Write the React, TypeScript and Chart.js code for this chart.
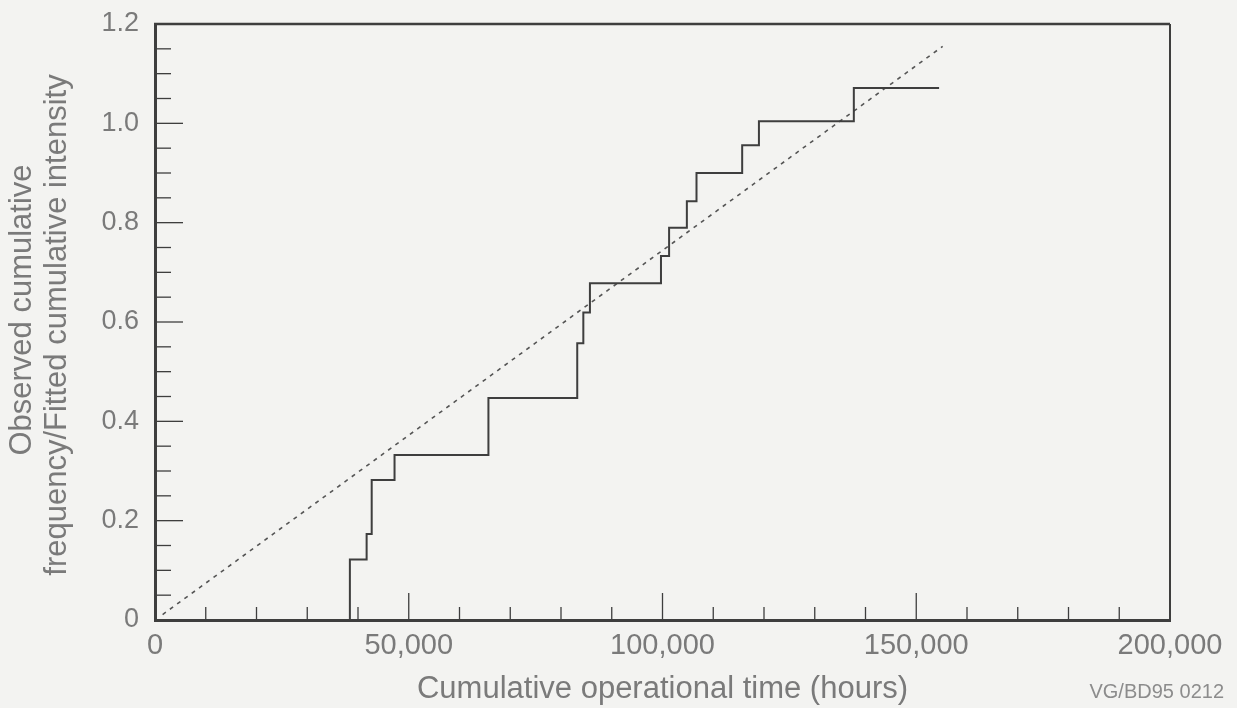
import React, { useEffect, useRef } from 'react';
import { Chart, registerables } from 'chart.js';

Chart.register(...registerables);

// Observed cumulative frequency: jump times (hours) and the level reached after each jump
const jumpTimes = [38400, 41700, 42700, 47200, 65700, 83200, 84400, 85700, 99700, 101300, 104800, 106700, 115700, 119000, 137700];
const jumpLevels = [0.122, 0.173, 0.282, 0.332, 0.447, 0.557, 0.619, 0.678, 0.733, 0.79, 0.843, 0.9, 0.956, 1.004, 1.071];
const observedEnd = 154500;

// Fitted cumulative intensity (dashed line)
const fitTimes = [1500, 155200];
const fitValues = [0.011, 1.155];

// Axis ticks
const xTicks = [0, 50000, 100000, 150000, 200000];
const xTickLabels = ['0', '50,000', '100,000', '150,000', '200,000'];
const xMinorTicks = [10000, 20000, 30000, 40000, 60000, 70000, 80000, 90000, 110000, 120000, 130000, 140000, 160000, 170000, 180000, 190000];
const yTicks = [0, 0.2, 0.4, 0.6, 0.8, 1.0, 1.2];
const yTickLabels = ['0', '0.2', '0.4', '0.6', '0.8', '1.0', '1.2'];
const yMinorTicks = [0.05, 0.1, 0.15, 0.25, 0.3, 0.35, 0.45, 0.5, 0.55, 0.65, 0.7, 0.75, 0.85, 0.9, 0.95, 1.05, 1.1, 1.15];

const xTitle = 'Cumulative operational time (hours)';
const yTitleLines = ['Observed cumulative', 'frequency/Fitted cumulative intensity'];
const figureId = 'VG/BD95 0212';

const FONT = '"Liberation Sans", Arial, Helvetica, sans-serif';
const TEXT = '#7a7a7a';
const INK = '#3e3e3e';
const BG = '#f3f3f1';

const framePlugin = {
  id: 'frame',
  beforeDraw(chart: any) {
    const { ctx, width, height } = chart;
    ctx.save();
    ctx.fillStyle = BG;
    ctx.fillRect(0, 0, width, height);
    ctx.restore();
  },
  afterDraw(chart: any) {
    const { ctx, chartArea } = chart;
    const xs = chart.scales.x;
    const ys = chart.scales.y;
    const { left, right, top, bottom } = chartArea;
    ctx.save();
    ctx.strokeStyle = INK;
    // top and right borders
    ctx.lineWidth = 2.5;
    ctx.beginPath();
    ctx.moveTo(left - 1, top);
    ctx.lineTo(right, top);
    ctx.stroke();
    ctx.lineWidth = 2;
    ctx.beginPath();
    ctx.moveTo(right, top);
    ctx.lineTo(right, bottom + 1);
    ctx.stroke();
    // inward ticks
    ctx.lineWidth = 1.3;
    const drawX = (v: number, len: number) => {
      const px = xs.getPixelForValue(v);
      ctx.beginPath();
      ctx.moveTo(px, bottom);
      ctx.lineTo(px, bottom - len);
      ctx.stroke();
    };
    const drawY = (v: number, len: number) => {
      const py = ys.getPixelForValue(v);
      ctx.beginPath();
      ctx.moveTo(left, py);
      ctx.lineTo(left + len, py);
      ctx.stroke();
    };
    xTicks.slice(1, -1).forEach((v) => drawX(v, 27));
    xMinorTicks.forEach((v) => drawX(v, 13));
    yTicks.slice(1, -1).forEach((v) => drawY(v, 28));
    yMinorTicks.forEach((v) => drawY(v, 16));

    // y-axis title (two rotated lines)
    ctx.fillStyle = TEXT;
    ctx.font = '31px ' + FONT;
    ctx.textAlign = 'center';
    ctx.textBaseline = 'middle';
    const titleSpots = [
      [22, 310],
      [57, 325],
    ];
    yTitleLines.forEach((line, i) => {
      ctx.save();
      ctx.translate(titleSpots[i][0], titleSpots[i][1]);
      ctx.rotate(-Math.PI / 2);
      ctx.fillText(line, 0, 0);
      ctx.restore();
    });

    // figure id
    ctx.fillStyle = '#8c8c8c';
    ctx.font = '20px ' + FONT;
    ctx.textAlign = 'right';
    ctx.textBaseline = 'middle';
    ctx.fillText(figureId, 1224, 692);
    ctx.restore();
  },
};

export default function App() {
  const ref = useRef<HTMLCanvasElement | null>(null);

  useEffect(() => {
    if (!ref.current) return;
    const stepData = [{ x: jumpTimes[0], y: 0 }]
      .concat(jumpTimes.map((t, i) => ({ x: t, y: jumpLevels[i] })))
      .concat([{ x: observedEnd, y: jumpLevels[jumpLevels.length - 1] }]);
    const fitData = fitTimes.map((t, i) => ({ x: t, y: fitValues[i] }));

    const chart = new Chart(ref.current, {
      type: 'line',
      data: {
        datasets: [
          {
            label: 'Observed cumulative frequency',
            data: stepData,
            stepped: 'before',
            borderColor: INK,
            borderWidth: 2,
            pointRadius: 0,
            fill: false,
          },
          {
            label: 'Fitted cumulative intensity',
            data: fitData,
            borderColor: '#555555',
            borderWidth: 1.6,
            borderDash: [4, 5],
            pointRadius: 0,
            fill: false,
          },
        ],
      },
      options: {
        animation: false,
        responsive: true,
        maintainAspectRatio: false,
        layout: { padding: { top: 24, right: 67, left: 0, bottom: 0 } },
        plugins: { legend: { display: false }, tooltip: { enabled: false } },
        scales: {
          x: {
            type: 'linear',
            min: 0,
            max: 200000,
            afterBuildTicks: (s: any) => {
              s.ticks = xTicks.map((v) => ({ value: v }));
            },
            afterFit: (s: any) => {
              s.height = 88;
              s.paddingLeft = 0;
              s.paddingRight = 0;
            },
            ticks: {
              callback: (_v: any, i: number) => xTickLabels[i],
              font: { family: FONT, size: 29 },
              color: TEXT,
              padding: 9,
              maxRotation: 0,
              autoSkip: false,
            },
            grid: { display: false, drawTicks: false },
            border: { display: true, color: INK, width: 3 },
            title: {
              display: true,
              text: xTitle,
              font: { family: FONT, size: 31 },
              color: TEXT,
              padding: { top: 0, bottom: 0 },
            },
          },
          y: {
            type: 'linear',
            min: 0,
            max: 1.2,
            afterBuildTicks: (s: any) => {
              s.ticks = yTicks.map((v) => ({ value: v }));
            },
            afterFit: (s: any) => {
              s.width = 155;
              s.paddingTop = 0;
              s.paddingBottom = 0;
            },
            ticks: {
              callback: (_v: any, i: number) => yTickLabels[i],
              font: { family: FONT, size: 27 },
              color: TEXT,
              padding: 16,
              autoSkip: false,
            },
            grid: { display: false, drawTicks: false },
            border: { display: true, color: INK, width: 3 },
            title: { display: false },
          },
        },
      },
      plugins: [framePlugin],
    });
    return () => chart.destroy();
  }, []);

  return (
    <div style={{ position: 'fixed', left: 0, top: 0, width: 1237, height: 708, background: BG }}>
      <canvas ref={ref} />
    </div>
  );
}
